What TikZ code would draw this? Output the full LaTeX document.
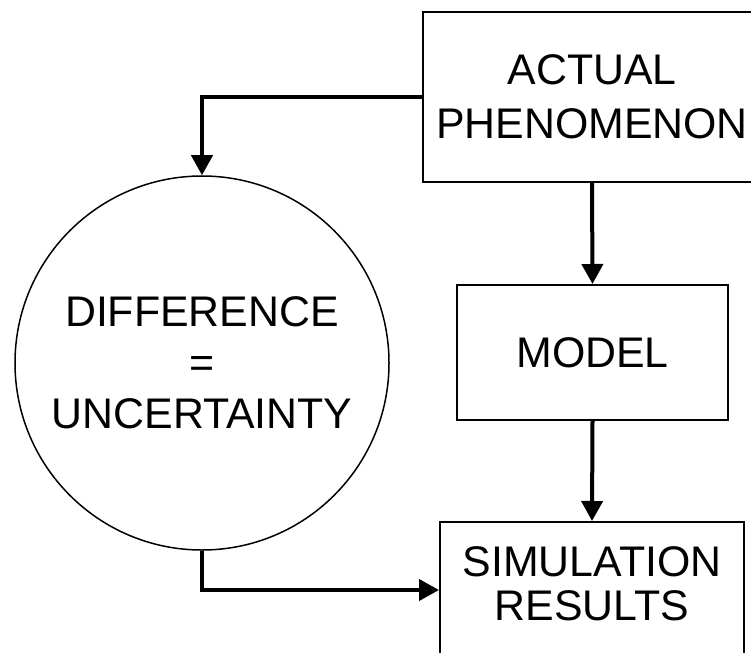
\documentclass[tikz,border=0pt]{standalone}
\usepackage{fontspec}
\setmainfont{Liberation Sans}
\usetikzlibrary{arrows.meta}
\begin{document}
\begin{tikzpicture}[x=1bp,y=-1bp,
  box/.style={draw, line width=2bp, rectangle, inner sep=0pt, align=center},
  conn/.style={line width=4bp, -{Triangle[length=20bp,width=21bp]}},
  txt/.style={align=center, inner sep=0pt}]
\clip (0,0) rectangle (751,653);
\fill[white] (0,0) rectangle (751,653);
\node[box, minimum width=338bp, minimum height=170bp, font=\fontsize{43}{54}\selectfont] (top) at (592,97) {ACTUAL\\PHENOMENON};
\node[box, minimum width=271bp, minimum height=135bp, font=\fontsize{43}{50}\selectfont] (model) at (592.5,352.5) {MODEL};
\node[box, minimum width=304bp, minimum height=136bp] (sim) at (592,590) {};
\node[txt, font=\fontsize{43}{44}\selectfont] (simtext) at (592,583.5) {SIMULATION\\RESULTS};
\node[circle, draw, line width=1.5bp, minimum size=374bp, inner sep=0pt, align=center, font=\fontsize{43}{51}\selectfont] (circ) at (202,363) {DIFFERENCE\\=\\UNCERTAINTY};
\draw[conn] (top.west) -| (circ.north);
\draw[conn] (top.south) -- (model.north);
\draw[conn] (model.south) -- (sim.north);
\draw[conn] (circ.south) |- (sim.west);
\end{tikzpicture}
\end{document}
